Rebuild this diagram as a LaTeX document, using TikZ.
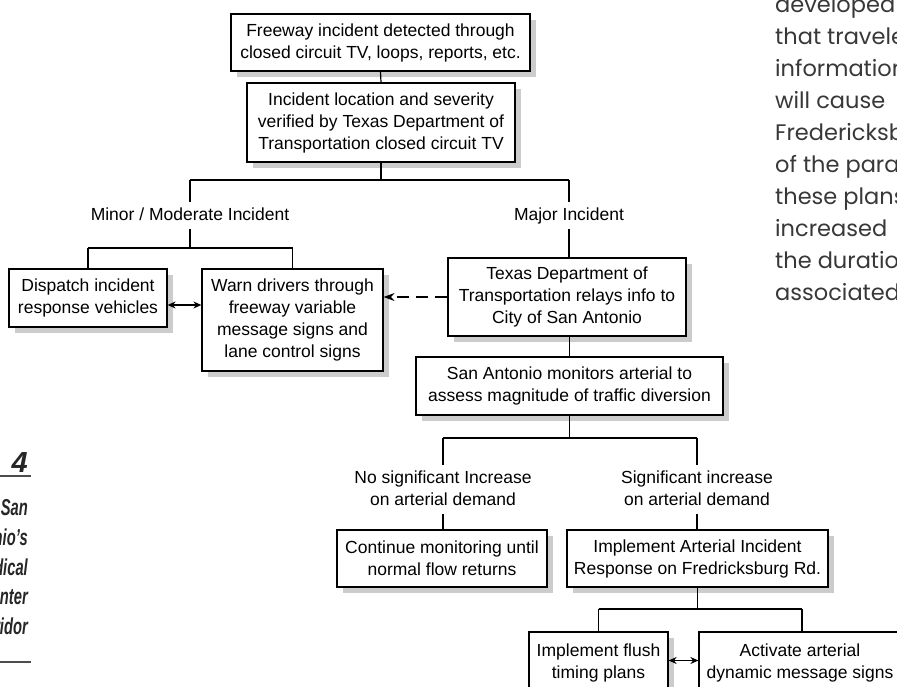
\documentclass[tikz,border=0pt]{standalone}
\usepackage{fontspec}
\setmainfont{Liberation Sans}
\newfontfamily\bodyfont{Poppins}
\newfontfamily\sidefont[FakeStretch=0.64]{Liberation Sans}
\usetikzlibrary{arrows.meta,shadows}
\begin{document}
\begin{tikzpicture}[x=1pt,y=-1pt,
  box/.style={draw, line width=1.2pt, fill=white, align=center, inner sep=0pt,
    font=\fontsize{17.5}{22}\selectfont,
    drop shadow={shadow xshift=6pt, shadow yshift=-6pt, fill=black!20, opacity=1}},
  lab/.style={align=center, inner xsep=2pt, inner ysep=2pt, font=\fontsize{17.5}{22}\selectfont},
  conn/.style={line width=1.2pt},
  dbl/.style={line width=1.2pt, {Stealth[length=8pt,width=7pt]}-{Stealth[length=8pt,width=7pt]}},
  dasharrow/.style={line width=1.2pt, dash pattern=on 12pt off 7pt, -{Stealth[length=11pt,width=8pt]}},
  bodytxt/.style={font=\bodyfont\fontsize{22.5}{32}\selectfont, text=black!78, inner sep=0pt},
  sidetxt/.style={font=\sidefont\bfseries\itshape\fontsize{23}{29}\selectfont, text=black!85, inner sep=0pt},
  rulestyle/.style={line width=1.5pt, black!70}
]
\useasboundingbox (0,0) rectangle (897,686);
\fill[white] (0,0) rectangle (897,686);
\clip (0,0) rectangle (897,686);

% boxes
\node[box, minimum width=299pt, minimum height=57pt] (b1) at (380.5,42.5)
  {Freeway incident detected through\\closed circuit TV, loops, reports, etc.};
\node[box, minimum width=268pt, minimum height=79pt] (b2) at (381,122.5)
  {Incident location and severity\\verified by Texas Department of\\Transportation closed circuit TV};
\node[box, minimum width=158pt, minimum height=58pt] (d) at (88,298)
  {Dispatch incident\\response vehicles};
\node[box, minimum width=181pt, minimum height=102pt] (w) at (292.5,320)
  {Warn drivers through\\freeway variable\\message signs and\\lane control signs};
\node[box, minimum width=238pt, minimum height=78pt] (t) at (567,297)
  {Texas Department of\\Transportation relays info to\\City of San Antonio};
\node[box, minimum width=307pt, minimum height=58pt] (sa) at (569.5,386)
  {San Antonio monitors arterial to\\assess magnitude of traffic diversion};
\node[box, minimum width=210pt, minimum height=57pt] (c) at (442,558.5)
  {Continue monitoring until\\normal flow returns};
\node[box, minimum width=261pt, minimum height=57pt] (i) at (697.5,558.5)
  {Implement Arterial Incident\\Response on Fredricksburg Rd.};
\node[box, minimum width=139pt, minimum height=61pt] (f) at (598.5,662.5)
  {Implement flush\\timing plans};
\node[box, minimum width=202pt, minimum height=61pt] (a) at (800,662.5)
  {Activate arterial\\dynamic message signs};

% labels
\node[lab] (minor) at (190,215.6) {\strut Minor / Moderate Incident};
\node[lab] (major) at (569,215.6) {\strut Major Incident};
\node[lab] (nosig) at (443,489.6) {\strut No significant Increase\\on arterial demand\strut};
\node[lab] (sig) at (697,489.6) {\strut Significant increase\\on arterial demand\strut};

% junction points
\coordinate (j1L) at (190,180);
\coordinate (j1R) at (569,180);
\coordinate (j2L) at (88,248);
\coordinate (j2R) at (292.5,248);
\coordinate (j3L) at (443,438);
\coordinate (j3R) at (697,438);
\coordinate (j4L) at (598.5,609);
\coordinate (j4R) at (802,609);

% connectors
\draw[conn] (b1.south) -- (b2.north);
\draw[conn] (b2.south) -- (b2.south |- j1L);
\draw[conn] (j1L) -- (j1R);
\draw[conn] (j1L) -- (minor.north);
\draw[conn] (j1R) -- (major.north);
\draw[conn] (minor.south) -- (j2L -| minor.south);
\draw[conn] (j2L) -- (j2R);
\draw[conn] (j2L) -- (d.north);
\draw[conn] (j2R) -- (w.north);
\draw[conn] (major.south) -- (major.south |- t.north);
\draw[conn] (sa.north) -- (sa.north |- t.south);
\draw[conn] (sa.south) -- (sa.south |- j3L);
\draw[conn] (j3L) -- (j3R);
\draw[conn] (j3L) -- (nosig.north);
\draw[conn] (j3R) -- (sig.north);
\draw[conn] (nosig.south) -- (nosig.south |- c.north);
\draw[conn] (sig.south) -- (sig.south |- i.north);
\draw[conn] (i.south) -- (i.south |- j4L);
\draw[conn] (j4L) -- (j4R);
\draw[conn] (j4L) -- (f.north);
\draw[conn] (j4R) -- (j4R |- a.north);

\draw[dbl] ([yshift=-7pt]d.east) -- ([yshift=-7pt]d.east -| w.west);
\draw[dbl] ([yshift=2pt]f.east) -- ([yshift=2pt]f.east -| a.west);
\draw[dasharrow] (t.west) -- (t.west -| w.east);

% body text on the right (cut by the page edge)
\foreach \t [count=\k] in {developed, that travelers, information, will cause,
  Fredericksburg, of the parallel, these plans, increased, the duration, associated}
  \node[bodytxt, anchor=base west] (body\k) at (775,{12+32*(\k-1)}) {\t};

% side caption on the left (cut by the page edge)
\node[font=\bfseries\itshape\fontsize{29}{30}\selectfont, text=black!85, inner sep=0pt,
  anchor=base east] (fig) at (28,472) {4};
\draw[rulestyle] (0,476) -- (31,476);
\node[sidetxt, anchor=base east] (s1) at (28,515) {San};
\node[sidetxt, anchor=base east] (s2) at (28,545) {Antonio’s};
\node[sidetxt, anchor=base east] (s3) at (28,575) {Medical};
\node[sidetxt, anchor=base east] (s4) at (28,604) {Center};
\node[sidetxt, anchor=base east] (s5) at (28,634) {Corridor};
\draw[rulestyle] (0,662) -- (31,662);
\end{tikzpicture}
\end{document}
